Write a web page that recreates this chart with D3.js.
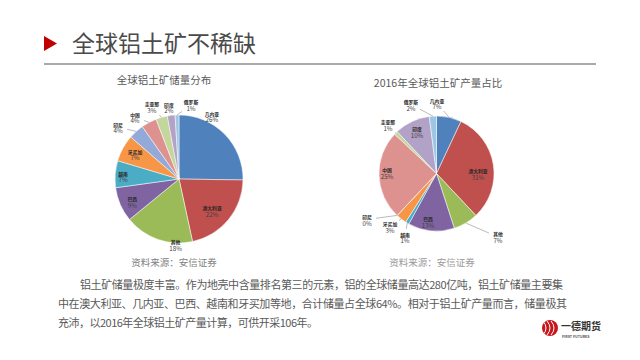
<!DOCTYPE html>
<html><head><meta charset="utf-8">
<script src="https://cdn.jsdelivr.net/npm/d3@7/dist/d3.min.js"></script>
<style>
body{margin:0;background:#fff;}
svg{display:block;font-family:"Noto Sans CJK SC","Noto Sans",sans-serif;}
</style>
</head><body>
<svg id="c" width="640" height="360"></svg>
<script>
// ---------- data ----------
const countries = ["几内亚","澳大利亚","其他","巴西","越南","牙买加","印尼","中国","圭亚那","印度","俄罗斯"];
const reserveShare = [26,22,18,9,7,7,4,4,3,2,1];          // 全球铝土矿储量分布 (%)
const output2016Share = [7,31,7,13,1,3,0,25,1,10,2];      // 2016年全球铝土矿产量占比 (%)
const pageTitle = "全球铝土矿不稀缺";
const leftTitle = "全球铝土矿储量分布";
const rightTitle = "2016年全球铝土矿产量占比";
const sourceNote = "资料来源：安信证券";
const bodyLines = [
  "铝土矿储量极度丰富。作为地壳中含量排名第三的元素，铝的全球储量高达280亿吨，铝土矿储量主要集",
  "中在澳大利亚、几内亚、巴西、越南和牙买加等地，合计储量占全球64%。相对于铝土矿产量而言，储量极其",
  "充沛，以2016年全球铝土矿产量计算，可供开采106年。"
];
const logoName = "一德期货";
const logoSub = "FIRST FUTURES";

// ---------- styles / layout ----------
const sliceColors = ["#4F81BD","#C0504D","#9BBB59","#8064A2","#4BACC6","#F79646",
                     "#93A9D9","#DE928F","#C3D69B","#B3A2C7","#9DC6E4"];
// label placement: [angle (deg, clockwise from 12 o'clock), distance from centre, outside?]
const leftLabelLayout = [[27.6,71,false],[134,46,false],[183,66,false],[244,52,false],[273,56,false],
  [299.6,50.6,false],[310.4,80,true],[324.6,76,true],[339.4,77,true],[352,72.7,true],[9.2,75,true]];
const rightLabelLayout = [[0.4,70.5,true],[90,41.5,false],[135.9,88.4,true],[190,48.7,false],[206.4,70.9,true],
  [221.3,70.5,true],[236.5,83.3,true],[270.6,49.5,false],[315.3,69,true],[335.1,46.3,false],[339.7,73.6,true]];

const svg = d3.select("#c");

// header
svg.append("path").attr("d","M44,36L57,43.5L44,51Z").attr("fill","#C00000");
svg.append("text").attr("x",72).attr("y",52).attr("font-size",23).attr("fill","#4a4a4a")
  .text(pageTitle);
svg.append("line").attr("x1",44).attr("x2",596).attr("y1",64).attr("y2",64)
  .attr("stroke","#8c8c8c").attr("stroke-width",1.5);

function drawPie(cx, cy, r, values, layout, title, titleX, titleY) {
  const g = svg.append("g").attr("transform",`translate(${cx},${cy})`);
  const pie = d3.pie().sort(null).value(d=>d);
  const arcs = pie(values);
  const arc = d3.arc().innerRadius(0).outerRadius(r);
  g.selectAll("path.s").data(arcs).join("path").attr("class","s")
    .attr("d",arc).attr("fill",(d,i)=>sliceColors[i])
    .attr("stroke","#fff").attr("stroke-width",0.5);
  svg.append("text").attr("x",titleX).attr("y",titleY).attr("text-anchor","middle")
    .attr("font-size",10.5).attr("fill","#595959").text(title);
  arcs.forEach((a,i)=>{
    const [ang,dist,outside] = layout[i];
    const t = ang*Math.PI/180;
    const lx = dist*Math.sin(t), ly = -dist*Math.cos(t);
    if (outside) {
      const mid = (a.startAngle+a.endAngle)/2;
      const ax = (r)*Math.sin(mid), ay = -(r)*Math.cos(mid);
      const dx = ax-lx, dy = ay-ly;
      const hw = 9, hh = 8;
      const k = Math.min(hw/Math.abs(dx||1e-6), hh/Math.abs(dy||1e-6));
      g.append("line").attr("x1",lx+dx*k).attr("y1",ly+dy*k).attr("x2",ax).attr("y2",ay)
        .attr("stroke","#8c8c8c").attr("stroke-width",0.6);
    }
    g.append("text").attr("x",lx).attr("y",ly-0.5).attr("text-anchor","middle")
      .attr("font-size",4.8).attr("font-weight","bold").attr("fill","#262626").text(countries[i]);
    g.append("text").attr("x",lx).attr("y",ly+6.2).attr("text-anchor","middle")
      .attr("font-size",6.2).attr("fill","#404040").text(values[i]+"%");
  });
}

drawPie(179,179,64,reserveShare,leftLabelLayout,leftTitle,164,84);
drawPie(436.5,173.5,57.5,output2016Share,rightLabelLayout,rightTitle,438,87);

// sources
svg.append("text").attr("x",174).attr("y",266).attr("text-anchor","middle")
  .attr("font-size",9.5).attr("fill","#7f7f7f").text(sourceNote);
svg.append("text").attr("x",432).attr("y",266).attr("text-anchor","middle")
  .attr("font-size",9.5).attr("fill","#9a9a9a").text(sourceNote);

// body text
const bodyX = [80,58,58], bodyW = [483,509,260], bodyY = [289,308,327];
bodyLines.forEach((s,i)=>{
  svg.append("text").attr("x",bodyX[i]).attr("y",bodyY[i]).attr("font-size",11)
    .attr("fill","#595959").attr("textLength",bodyW[i]).attr("lengthAdjust","spacing").text(s);
});

// logo
const lg = svg.append("g").attr("transform","translate(550,328)");
lg.append("circle").attr("r",8).attr("fill","#C8161D");
[-4,0,4].forEach(o=>lg.append("path").attr("d",`M${o-3},-7 Q${o+3},0 ${o-3},7`)
  .attr("fill","none").attr("stroke","#fff").attr("stroke-width",1));
svg.append("text").attr("x",561).attr("y",330).attr("font-size",10).attr("font-weight","bold")
  .attr("fill","#333").text(logoName);
svg.append("text").attr("x",562).attr("y",338).attr("font-size",3.6).attr("font-weight","bold")
  .attr("fill","#555").text(logoSub);
</script>
</body></html>
